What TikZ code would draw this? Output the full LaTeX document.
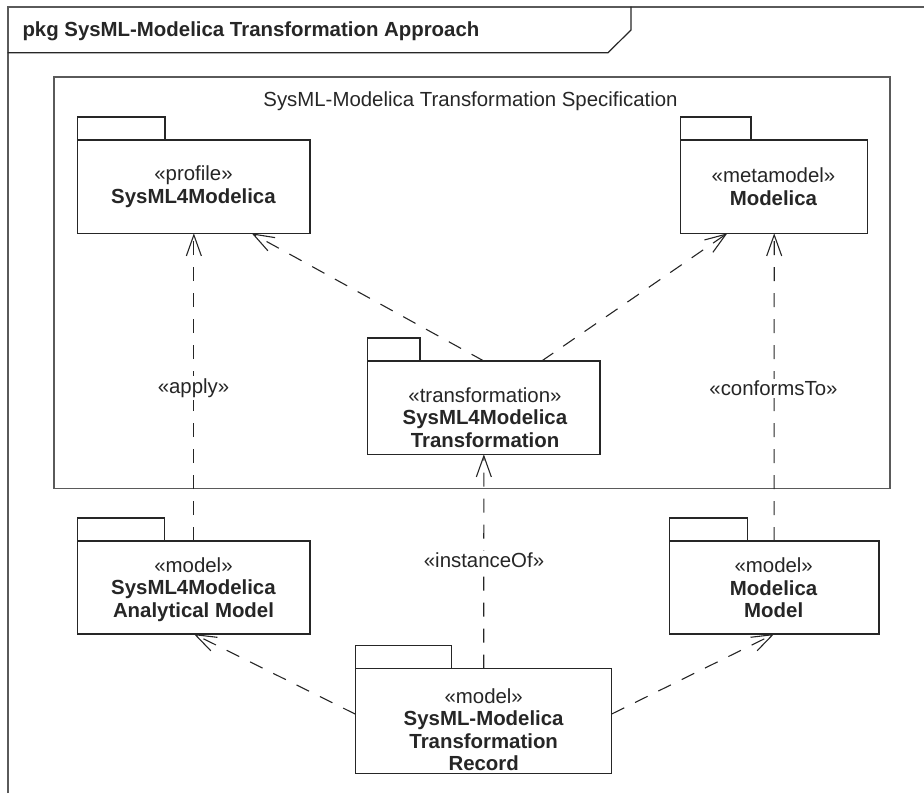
\documentclass[tikz,border=0pt]{standalone}
\usepackage{fontspec}
\setmainfont{Liberation Sans}
\usetikzlibrary{arrows.meta}
\definecolor{ink}{HTML}{262626}
\definecolor{framegray}{HTML}{5A5A5A}
\begin{document}
\begin{tikzpicture}[x=1pt,y=-1pt,
  every node/.style={font=\fontsize{20.4}{22.5}\selectfont, text=ink},
  pkgbody/.style={draw=ink, line width=1.4pt, fill=white, inner sep=0pt, outer sep=0pt},
  pkgtab/.style={draw=ink, line width=1.3pt},
  pkgtext/.style={align=center, inner sep=0pt},
  dep/.style={draw=ink, line width=1.1pt, dash pattern=on 14pt off 12pt,
    -{Straight Barb[length=21pt,width=15pt,line width=1.1pt]}},
  deplabel/.style={fill=white, inner sep=2pt}
]
\useasboundingbox (0,0) rectangle (924,793);

% diagram frame and its name tab
\draw[framegray, line width=1.6pt] (7.7,793) -- (7.7,6.7) -- (924,6.7);
\draw[ink, line width=1.2pt] (7.7,52.7) -- (608,52.7) -- (631,30) -- (631,6.7);
\node[anchor=base west, font=\fontsize{20.4}{22.5}\selectfont\bfseries] (title) at (19,36.5)
  {pkg SysML-Modelica Transformation Approach};

% specification package (inner frame)
\node[draw=framegray, line width=1.4pt, minimum width=836pt, minimum height=411.5pt, inner sep=0pt]
  (spec) at (472,282.75) {};
\node[anchor=base] (spectitle) at (470.5,106) {SysML-Modelica Transformation Specification};

% package bodies
\node[pkgbody, minimum width=232.3pt, minimum height=93.3pt] (prof)  at (193.85,186.65) {};
\node[pkgbody, minimum width=187pt,   minimum height=93.3pt] (meta)  at (774.2,186.65) {};
\node[pkgbody, minimum width=232.3pt, minimum height=93.3pt] (trans) at (483.85,407.65) {};
\node[pkgbody, minimum width=232.3pt, minimum height=93pt]   (anal)  at (193.85,587.5) {};
\node[pkgbody, minimum width=209.7pt, minimum height=93pt]   (mmod)  at (774.15,587.5) {};
\node[pkgbody, minimum width=256pt,   minimum height=105pt]  (rec)   at (483.7,721) {};

% package tabs
\draw[pkgtab] (prof.north west)  rectangle ++(87.3,-23);
\draw[pkgtab] (meta.north west)  rectangle ++(70.3,-23);
\draw[pkgtab] (trans.north west) rectangle ++(52.3,-23);
\draw[pkgtab] (anal.north west)  rectangle ++(86.6,-23);
\draw[pkgtab] (mmod.north west)  rectangle ++(78.4,-23);
\draw[pkgtab] (rec.north west)   rectangle ++(96,-23);

% package names
\node[pkgtext] (proftext)  at (193.5,186.7) {«profile»\\\textbf{SysML4Modelica}};
\node[pkgtext] (metatext)  at (773.5,186.5) {«metamodel»\\\textbf{Modelica}};
\node[pkgtext] (transtext) at (485,417.5) {«transformation»\\\textbf{SysML4Modelica}\\\textbf{Transformation}};
\node[pkgtext] (analtext)  at (193.5,589.5) {«model»\\\textbf{SysML4Modelica}\\\textbf{Analytical Model}};
\node[pkgtext] (mmodtext)  at (773.7,587.7) {«model»\\\textbf{Modelica}\\\textbf{Model}};
\node[pkgtext] (rectext)   at (483.7,729.5) {«model»\\\textbf{SysML-Modelica}\\\textbf{Transformation}\\\textbf{Record}};

% dependencies
\draw[dep] (anal.north) -- (prof.south);
\draw[dep] (mmod.north) -- (meta.south);
\draw[dep] (rec.north) -- (trans.south);
\draw[dep] (trans.north) -- ([xshift=57.85pt]prof.south);
\draw[dep] ([xshift=57.85pt]trans.north) -- ([xshift=-46.9pt]meta.south);
\draw[dep] ([yshift=6.7pt]rec.west) -- (anal.south);
\draw[dep] ([yshift=7pt]rec.east) -- (mmod.south);

% dependency stereotypes
\node[deplabel] (lapply)    at (193.5,388)   {«apply»};
\node[deplabel] (lconforms) at (773.5,388.3) {«conformsTo»};
\node[deplabel] (linstance) at (484,560)     {«instanceOf»};
\end{tikzpicture}
\end{document}
